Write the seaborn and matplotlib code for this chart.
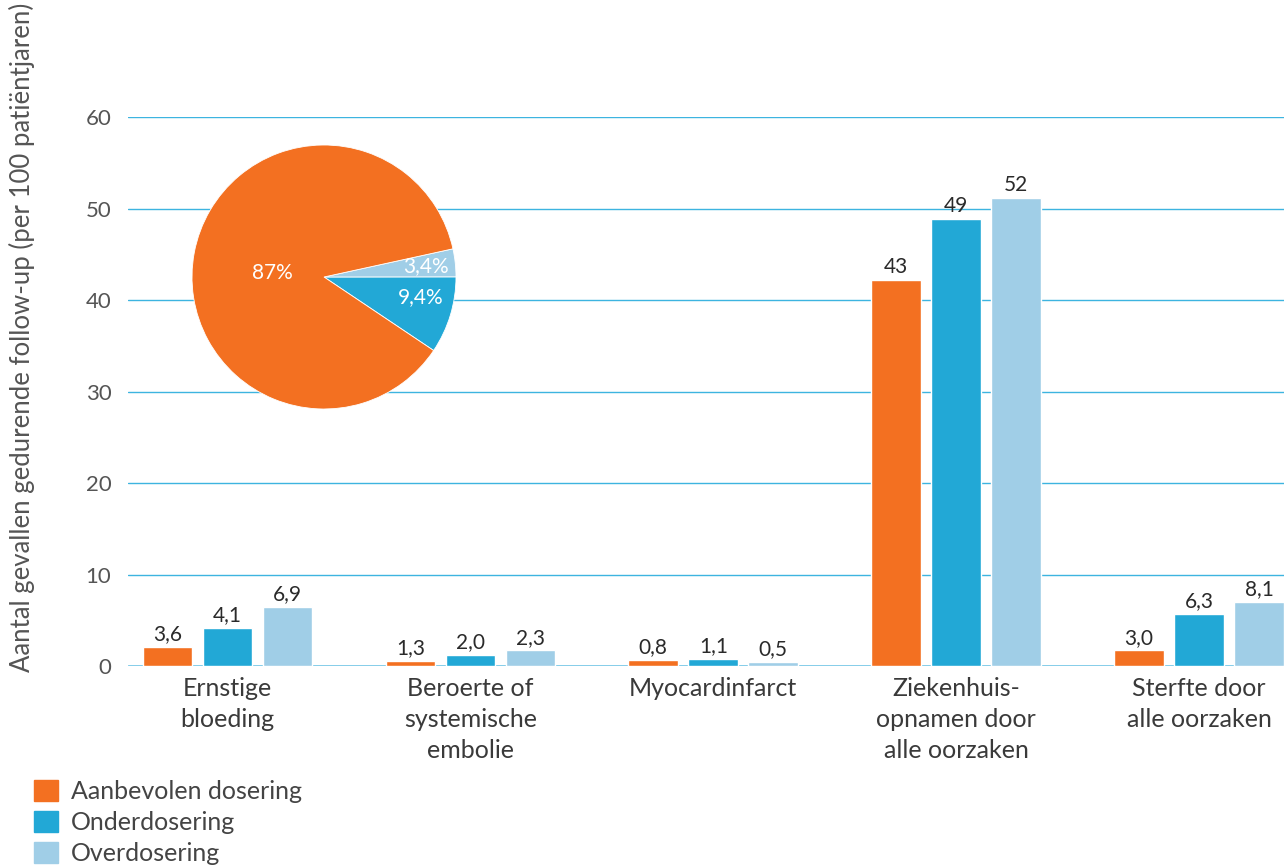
import numpy as np
import pandas as pd
import matplotlib
matplotlib.use("Agg")
import matplotlib.pyplot as plt
import matplotlib.patches as mpatches
import seaborn as sb

# data
categories = ["Ernstige\nbloeding", "Beroerte of\nsystemische\nembolie", "Myocardinfarct",
              "Ziekenhuis-\nopnamen door\nalle oorzaken", "Sterfte door\nalle oorzaken"]
groups = ["Aanbevolen dosering", "Onderdosering", "Overdosering"]
# bar heights as drawn in the picture
aanbevolen = [2.1, 0.6, 0.65, 42.2, 1.7]
onder = [4.2, 1.25, 0.76, 48.9, 5.7]
over = [6.5, 1.7, 0.45, 51.2, 7.0]
# value labels printed above the bars
labels_aanbevolen = ["3,6", "1,3", "0,8", "43", "3,0"]
labels_onder = ["4,1", "2,0", "1,1", "49", "6,3"]
labels_over = ["6,9", "2,3", "0,5", "52", "8,1"]
# pie shares
pie_values = [9.4, 3.4, 87]
pie_labels = ["9,4%", "3,4%", "87%"]

orange = "#F37021"
blue = "#22A8D6"
light = "#A0CEE7"
colors = [orange, blue, light]

sb.set_style("white")
plt.rcParams['font.family'] = ['Lato', 'DejaVu Sans']

df = pd.DataFrame({
    "categorie": categories * 3,
    "groep": [groups[0]] * 5 + [groups[1]] * 5 + [groups[2]] * 5,
    "waarde": aanbevolen + onder + over,
})

fig = plt.figure(figsize=(12.84, 8.66), dpi=100)
ax = fig.add_axes([0.0997, 0.2309, 0.9003, 0.634])

sb.barplot(data=df, x="categorie", y="waarde", hue="groep", hue_order=groups,
           palette=colors, width=0.741, gap=0.17, legend=False, ax=ax,
           saturation=1, errorbar=None)

for cont, labs in zip(ax.containers, [labels_aanbevolen, labels_onder, labels_over]):
    ax.bar_label(cont, labels=labs, padding=2, fontsize=15, color="#2a2a2a")

ax.set_ylim(0, 60)
ax.set_xlim(-0.41, 4.35)
ax.set_yticks(range(0, 61, 10))
ax.yaxis.grid(True, color="#3DB4E0", linewidth=1)
ax.set_axisbelow(True)
for s in ax.spines.values():
    s.set_visible(False)
ax.axhline(0, color="#8FD0EA", linewidth=2, zorder=0.5)
ax.tick_params(axis="y", labelsize=16, labelcolor="#555555", length=0, pad=12)
ax.tick_params(axis="x", labelsize=18, labelcolor="#3a3a3a", length=0, pad=8)
for t in ax.get_xticklabels():
    t.set_linespacing(1.42)
ax.set_xlabel("")
ax.set_ylabel("")

fig.text(0.017, 0.61, "Aantal gevallen gedurende follow-up (per 100 patiëntjaren)",
         rotation=90, ha="center", va="center", fontsize=18.5, color="#555555")

# pie inset
pax = fig.add_axes([192 / 1284, 1 - 409 / 866, 264 / 1284, 264 / 866])
wedges, texts = pax.pie(pie_values, colors=[blue, light, orange], startangle=-9.4 * 3.6,
                        counterclock=True, labels=None,
                        wedgeprops=dict(linewidth=0.6, edgecolor="white"))
pos = [(0.73, -0.15), (0.77, 0.08), (-0.39, 0.03)]
for (px, py), t in zip(pos, pie_labels):
    pax.text(px, py, t, ha="center", va="center", color="white", fontsize=15)
pax.set_xlim(-1, 1)
pax.set_ylim(-1, 1)
pax.set_aspect("equal")

handles = [mpatches.Patch(color=c, label=g) for c, g in zip(colors, groups)]
fig.legend(handles=handles, loc="upper left", bbox_to_anchor=(0.019, 0.111),
           frameon=False, fontsize=18, handlelength=0.95, handleheight=0.95,
           handletextpad=0.5, labelspacing=0.3, labelcolor="#444444",
           borderaxespad=0)

fig.savefig("out.png", dpi=100)
